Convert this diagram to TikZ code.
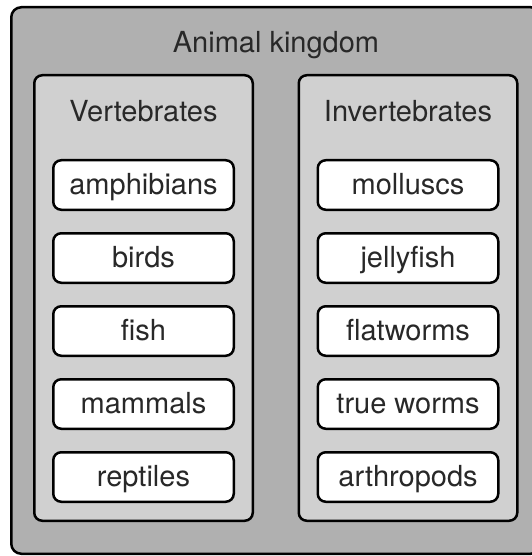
\documentclass[tikz,border=0pt]{standalone}
\usepackage{fontspec}
\setmainfont{TeX Gyre Heros}
\usetikzlibrary{positioning,calc}

\definecolor{kingdomgray}{RGB}{176,176,176}
\definecolor{groupgray}{RGB}{208,208,208}
\definecolor{labelgray}{RGB}{40,40,40}

\begin{document}
\begin{tikzpicture}[
  x=1pt, y=-1pt,
  font=\fontsize{29}{35}\selectfont,
  kingdombox/.style={draw, line width=2.5pt, rounded corners=10pt, fill=kingdomgray,
    minimum width=529.5pt, minimum height=546.5pt},
  groupbox/.style={draw, line width=2.5pt, rounded corners=8pt, fill=groupgray,
    minimum width=218.5pt, minimum height=445.5pt},
  leaf/.style={draw, line width=2.5pt, rounded corners=8pt, fill=white, inner sep=0pt,
    minimum width=180.5pt, minimum height=49.5pt, text height=24pt, text depth=5pt,
    text=labelgray},
  title/.style={anchor=base, text=labelgray}
]
\useasboundingbox (0,0) rectangle (531,556);

\node[kingdombox] (kingdom) at (276,280.5) {};
\node[title] (kingdomtitle) at ($(kingdom.north)+(0,47)$) {Animal kingdom};

\node[groupbox] (vert) at (143.5,298) {};
\node[title] (verttitle) at ($(vert.north)+(0,47.5)$) {Vertebrates};
\node[groupbox] (invert) at (408,298) {};
\node[title] (inverttitle) at ($(invert.north)+(0,47.5)$) {Invertebrates};

\node[leaf, below=85pt of vert.north] (amphibians) {amphibians};
\node[leaf, below=21pt of amphibians] (birds) {birds};
\node[leaf, below=21pt of birds] (fish) {fish};
\node[leaf, below=21pt of fish] (mammals) {mammals};
\node[leaf, below=21pt of mammals] (reptiles) {reptiles};

\node[leaf, below=85pt of invert.north] (molluscs) {molluscs};
\node[leaf, below=21pt of molluscs] (jellyfish) {jellyfish};
\node[leaf, below=21pt of jellyfish] (flatworms) {flatworms};
\node[leaf, below=21pt of flatworms] (trueworms) {true worms};
\node[leaf, below=21pt of trueworms] (arthropods) {arthropods};

\end{tikzpicture}
\end{document}
